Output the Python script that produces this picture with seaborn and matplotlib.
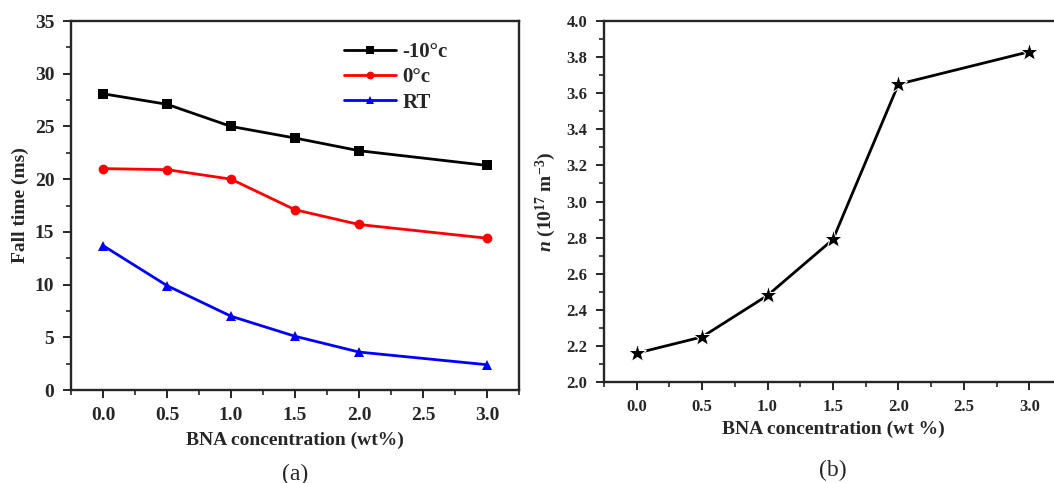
import numpy as np
import pandas as pd
import matplotlib
matplotlib.use("Agg")
import matplotlib.pyplot as plt
import seaborn as sns
from matplotlib.ticker import MultipleLocator

# data
conc = [0.0, 0.5, 1.0, 1.5, 2.0, 3.0]
fall_m10 = [28.1, 27.1, 25.0, 23.9, 22.7, 21.3]
fall_0 = [21.0, 20.9, 20.0, 17.1, 15.7, 14.4]
fall_rt = [13.7, 9.9, 7.0, 5.1, 3.6, 2.4]
series_names = ["-10°c", "0°c", "RT"]
n_density = [2.16, 2.25, 2.48, 2.79, 3.65, 3.83]

sns.set_theme(style="ticks")
plt.rcParams["font.family"] = ["Liberation Serif", "DejaVu Serif"]
plt.rcParams["font.weight"] = "bold"
plt.rcParams["mathtext.fontset"] = "custom"
plt.rcParams["mathtext.rm"] = "Liberation Serif:bold"
plt.rcParams["mathtext.it"] = "Liberation Serif:italic:bold"
plt.rcParams["mathtext.bf"] = "Liberation Serif:bold"
plt.rcParams["axes.linewidth"] = 1.7
plt.rcParams["xtick.direction"] = "out"
plt.rcParams["ytick.direction"] = "out"

df = pd.DataFrame({
    "conc": conc * 3,
    "fall": fall_m10 + fall_0 + fall_rt,
    "series": [s for s in series_names for _ in conc],
})
df_n = pd.DataFrame({"conc": conc, "n": n_density})

fig = plt.figure(figsize=(10.54, 4.83), dpi=100)
ax1 = fig.add_axes([0.0674, 0.1925, 0.425, 0.764])
ax2 = fig.add_axes([0.573, 0.209, 0.4346, 0.7475])

# panel (a)
sns.lineplot(
    data=df, x="conc", y="fall", hue="series", style="series",
    palette=["black", "red", "blue"], markers=["s", "o", "^"], dashes=False,
    markersize=7, linewidth=2, markeredgewidth=0, ax=ax1,
)
ax1.set_xlim(-0.25, 3.25)
ax1.set_ylim(0, 35)
ax1.xaxis.set_major_locator(MultipleLocator(0.5))
ax1.xaxis.set_minor_locator(MultipleLocator(0.25))
ax1.yaxis.set_major_locator(MultipleLocator(5))
ax1.yaxis.set_minor_locator(MultipleLocator(2.5))
ax1.set_xlabel("BNA concentration (wt%)", fontsize=14, fontweight="bold", labelpad=6)
ax1.set_ylabel("Fall time (ms)", fontsize=14, fontweight="bold", labelpad=4)
leg = ax1.legend(loc="upper right", frameon=False, fontsize=15, handlelength=2.5,
                 bbox_to_anchor=(0.86, 0.965), borderaxespad=0, labelspacing=0.25,
                 markerscale=0.8, handletextpad=0.3)
for t in leg.get_texts():
    t.set_fontweight("bold")
ax1.text(0.5, -0.2, "(a)", transform=ax1.transAxes, ha="center", va="top",
         fontsize=17, fontweight="normal")

# panel (b)
sns.lineplot(data=df_n, x="conc", y="n", color="black", marker="*",
             markersize=14, linewidth=2, ax=ax2)
ax2.set_xlim(-0.25, 3.25)
ax2.set_ylim(2.0, 4.0)
ax2.xaxis.set_major_locator(MultipleLocator(0.5))
ax2.xaxis.set_minor_locator(MultipleLocator(0.25))
ax2.yaxis.set_major_locator(MultipleLocator(0.2))
ax2.yaxis.set_minor_locator(MultipleLocator(0.1))
ax2.set_xlabel("BNA concentration (wt %)", fontsize=14, fontweight="bold", labelpad=4)
ax2.set_ylabel(r"$\it{n}$ (10$^{17}$ m$^{-3}$)", fontsize=14, fontweight="bold", labelpad=6)
ax2.text(0.5, -0.215, "(b)", transform=ax2.transAxes, ha="center", va="top",
         fontsize=17, fontweight="normal")

for ax in (ax1, ax2):
    ax.tick_params(which="major", length=6, width=1.4, pad=6)
    ax.tick_params(which="minor", length=3.5, width=1.2)
    ax.tick_params(axis="both", labelsize=14 if ax is ax1 else 12)
    for lab in ax.get_xticklabels() + ax.get_yticklabels():
        lab.set_fontweight("bold")
    for sp in ax.spines.values():
        sp.set_visible(True)

fig.savefig("out.png", dpi=100)
